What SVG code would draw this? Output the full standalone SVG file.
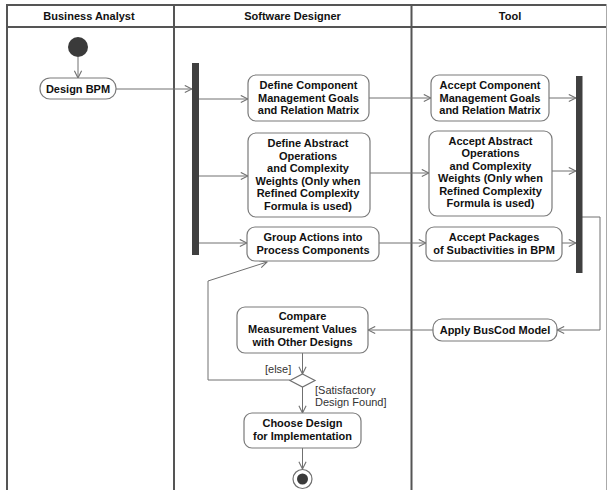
<svg xmlns="http://www.w3.org/2000/svg" width="608" height="490" viewBox="0 0 608 490">
<defs>
<style>
.lane{stroke:#555;stroke-width:2;fill:none}
.act{fill:#fff;stroke:#7a7a7a;stroke-width:1.2}
.t{font-family:"Liberation Sans",Arial,sans-serif;font-size:11px;font-weight:bold;fill:#111;text-anchor:middle}
.lbl{font-family:"Liberation Sans",Arial,sans-serif;font-size:11px;fill:#333}
.c{stroke:#707070;stroke-width:1;fill:none;marker-end:url(#arr)}
.bar{fill:#404040}
</style>
<marker id="arr" viewBox="0 0 10 10" refX="9" refY="5" markerWidth="9" markerHeight="9" markerUnits="userSpaceOnUse" orient="auto">
<path d="M1,1 L9,5 L1,9" fill="none" stroke="#707070" stroke-width="1.2"/>
</marker>
</defs>
<rect width="608" height="490" fill="#fff"/>
<g id="lanes">
<line class="lane" x1="7" y1="5" x2="607" y2="5"/>
<line class="lane" x1="7" y1="27" x2="607" y2="27"/>
<line class="lane" x1="7" y1="4" x2="7" y2="490"/>
<line class="lane" x1="174" y1="4" x2="174" y2="490"/>
<line class="lane" x1="411.5" y1="4" x2="411.5" y2="490"/>
<line x1="606.5" y1="4" x2="606.5" y2="490" stroke="#aaa" stroke-width="1"/>
<text class="t" x="89" y="20">Business Analyst</text>
<text class="t" x="292.5" y="20">Software Designer</text>
<text class="t" x="510" y="20">Tool</text>
</g>
<g id="connectors">
<line class="c" x1="78" y1="57" x2="78" y2="78"/>
<line class="c" x1="116" y1="89" x2="192" y2="89"/>
<line class="c" x1="199" y1="99" x2="248" y2="99"/>
<line class="c" x1="199" y1="176" x2="248" y2="176"/>
<line class="c" x1="199" y1="243" x2="247" y2="243"/>
<line class="c" x1="369" y1="98" x2="431" y2="98"/>
<line class="c" x1="549" y1="98" x2="576" y2="98"/>
<line class="c" x1="370" y1="173" x2="429" y2="173"/>
<line class="c" x1="552" y1="171" x2="576" y2="171"/>
<line class="c" x1="379" y1="243" x2="426" y2="243"/>
<line class="c" x1="562" y1="243" x2="576" y2="243"/>
<polyline class="c" points="582,217 600,217 600,330 557,330"/>
<line class="c" x1="433" y1="330" x2="368" y2="330"/>
<line class="c" x1="302.5" y1="353" x2="302.5" y2="374"/>
<polyline class="c" points="290,380 208,380 208,281 267,262"/>
<line class="c" x1="302.5" y1="387" x2="302.5" y2="413"/>
<line class="c" x1="302.5" y1="448" x2="302.5" y2="469"/>
<text class="lbl" x="265" y="373">[else]</text>
<text class="lbl" x="315" y="394">[Satisfactory</text>
<text class="lbl" x="315" y="406">Design Found]</text>
</g>
<g id="start"><circle cx="78" cy="47" r="10" fill="#3a3a3a"/></g>
<g id="designBPM">
<rect class="act" x="40" y="78" width="76" height="21" rx="10"/>
<text class="t" x="78" y="93">Design BPM</text>
</g>
<g id="fork1"><rect class="bar" x="192" y="63" width="7" height="192"/></g>
<g id="defineCMG">
<rect class="act" x="248" y="75" width="121" height="46" rx="8"/>
<text class="t" x="308.5" y="89">Define Component</text>
<text class="t" x="308.5" y="101.5">Management Goals</text>
<text class="t" x="308.5" y="114">and Relation Matrix</text>
</g>
<g id="acceptCMG">
<rect class="act" x="431" y="75" width="118" height="46" rx="8"/>
<text class="t" x="490" y="89">Accept Component</text>
<text class="t" x="490" y="101.5">Management Goals</text>
<text class="t" x="490" y="114">and Relation Matrix</text>
</g>
<g id="defineAO">
<rect class="act" x="248" y="133" width="122" height="84" rx="8"/>
<text class="t" x="308" y="147">Define Abstract</text>
<text class="t" x="308" y="159.5">Operations</text>
<text class="t" x="308" y="172">and Complexity</text>
<text class="t" x="308" y="184.5">Weights (Only when</text>
<text class="t" x="308" y="197">Refined Complexity</text>
<text class="t" x="308" y="209.5">Formula is used)</text>
</g>
<g id="acceptAO">
<rect class="act" x="429" y="131" width="123" height="85" rx="8"/>
<text class="t" x="490.5" y="144.5">Accept Abstract</text>
<text class="t" x="490.5" y="157">Operations</text>
<text class="t" x="490.5" y="169.5">and Complexity</text>
<text class="t" x="490.5" y="182">Weights (Only when</text>
<text class="t" x="490.5" y="194.5">Refined Complexity</text>
<text class="t" x="490.5" y="207">Formula is used)</text>
</g>
<g id="groupActions">
<rect class="act" x="247" y="227" width="132" height="34" rx="8"/>
<text class="t" x="313" y="241">Group Actions into</text>
<text class="t" x="313" y="253.5">Process Components</text>
</g>
<g id="acceptPackages">
<rect class="act" x="426" y="227" width="136" height="34" rx="8"/>
<text class="t" x="494" y="241">Accept Packages</text>
<text class="t" x="494" y="253.5">of Subactivities in BPM</text>
</g>
<g id="join1"><rect class="bar" x="576" y="76" width="6.5" height="197"/></g>
<g id="applyBusCod">
<rect class="act" x="433" y="319" width="124" height="22" rx="9"/>
<text class="t" x="495" y="334">Apply BusCod Model</text>
</g>
<g id="compare">
<rect class="act" x="237" y="307" width="131" height="46" rx="8"/>
<text class="t" x="302.5" y="320">Compare</text>
<text class="t" x="302.5" y="333">Measurement Values</text>
<text class="t" x="302.5" y="345.5">with Other Designs</text>
</g>
<g id="decision"><polygon points="302.5,374 315,380.5 302.5,387 290,380.5" fill="#fff" stroke="#707070" stroke-width="1.2"/></g>
<g id="chooseDesign">
<rect class="act" x="244" y="413" width="117" height="35" rx="8"/>
<text class="t" x="302.5" y="427">Choose Design</text>
<text class="t" x="302.5" y="439.5">for Implementation</text>
</g>
<g id="final">
<circle cx="302.5" cy="479" r="9.5" fill="#fff" stroke="#707070" stroke-width="1.2"/>
<circle cx="302.5" cy="479" r="5.5" fill="#3a3a3a"/>
</g>
</svg>
